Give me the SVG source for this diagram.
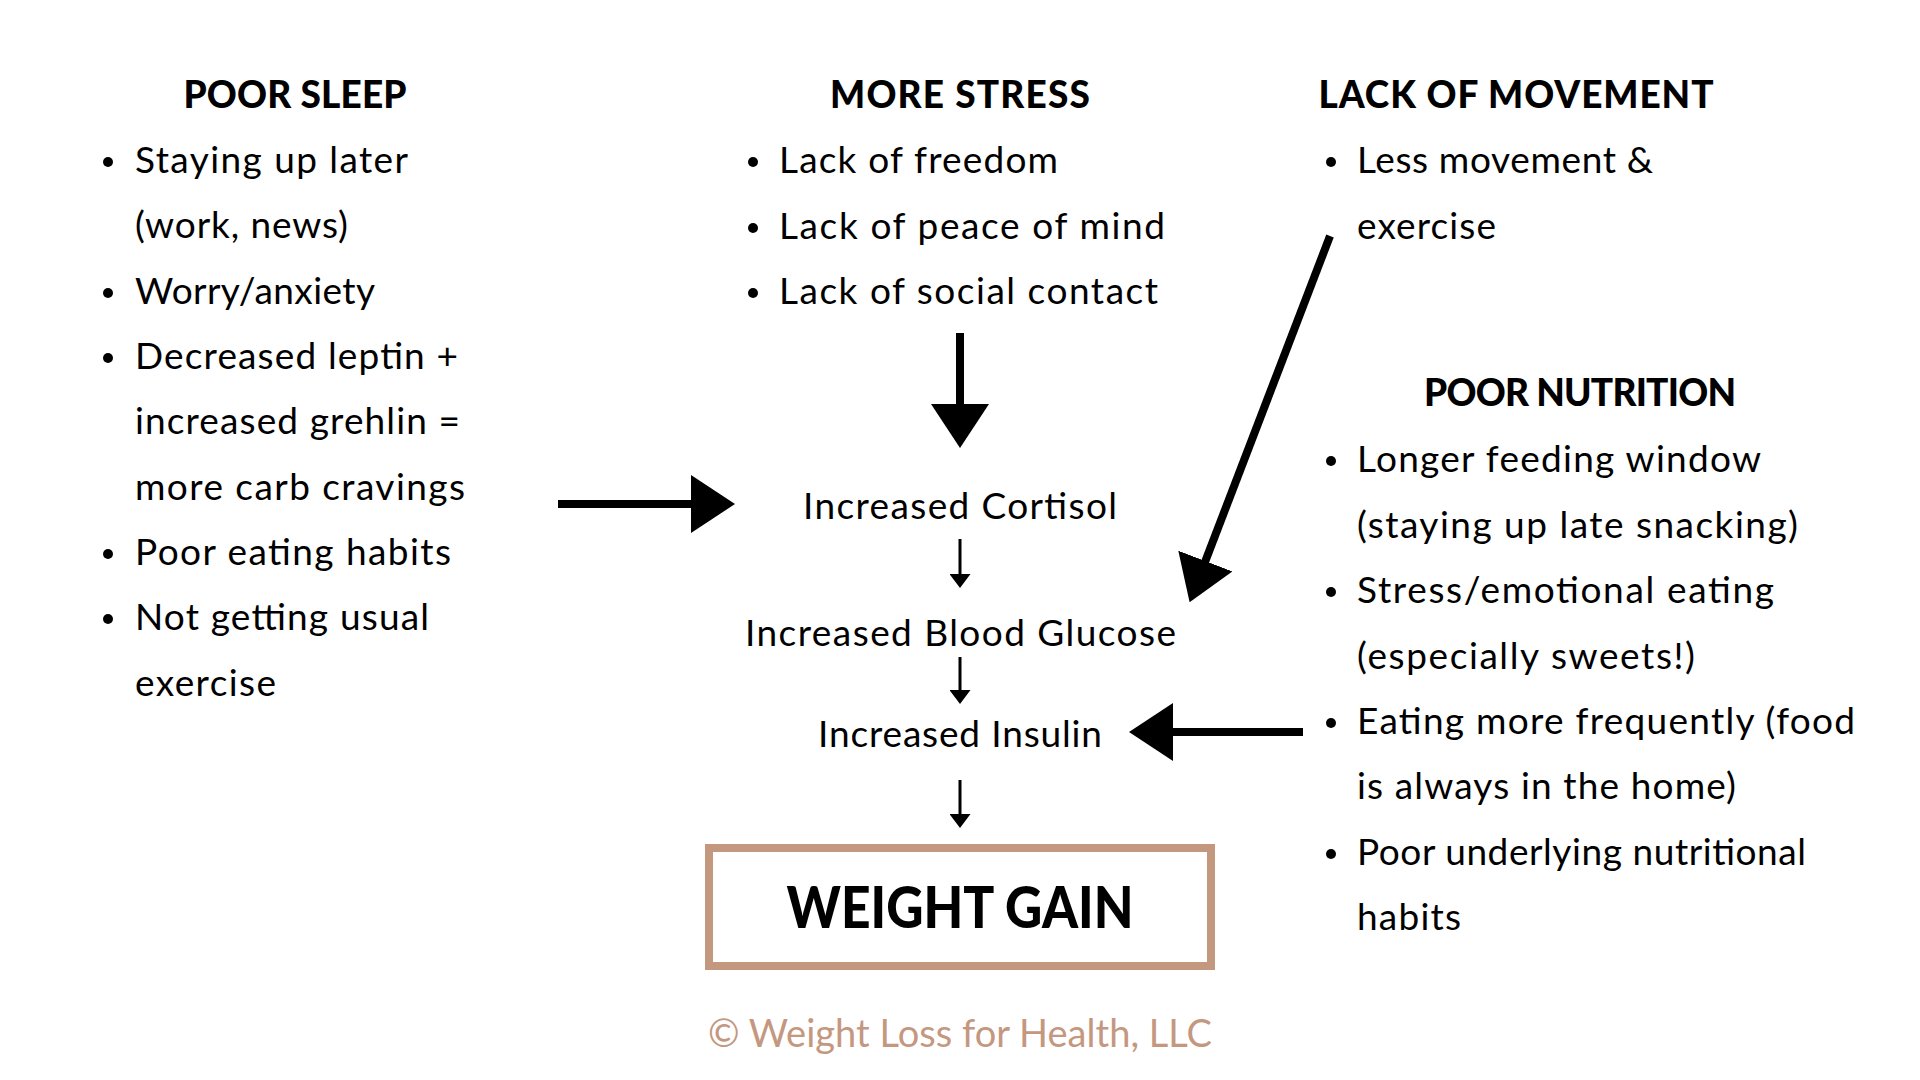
<svg xmlns="http://www.w3.org/2000/svg" width="1920" height="1080" viewBox="0 0 1920 1080">
<defs>
<style>
.h{font-family:Lato,"Liberation Sans",sans-serif;font-weight:900;font-size:37px;fill:#000;text-anchor:middle}
.t{font-family:Lato,"Liberation Sans",sans-serif;font-weight:400;font-size:37px;fill:#000}
.c{font-family:Lato,"Liberation Sans",sans-serif;font-weight:400;font-size:37px;fill:#000}
.b{fill:#000}
.big{stroke:#000;stroke-width:8;fill:none}
.sm{stroke:#000;stroke-width:3;fill:none}
</style>
<marker id="bh" markerUnits="userSpaceOnUse" viewBox="0 -29 44 58" refX="1" refY="0" markerWidth="44" markerHeight="58" orient="auto"><path d="M0,-29 L44,0 L0,29 Z" fill="#000"/></marker>
<marker id="sh" markerUnits="userSpaceOnUse" viewBox="0 -10.5 14 21" refX="1" refY="0" markerWidth="14" markerHeight="21" orient="auto"><path d="M0,-10.5 L14,0 L0,10.5 Z" fill="#000"/></marker>
</defs>
<rect width="1920" height="1080" fill="#fff"/>

<g id="poor-sleep">
<text class="h" x="295" y="108" textLength="223">POOR SLEEP</text>
<circle class="b" cx="108" cy="162" r="5"/>
<text class="t" x="135" y="173" textLength="273">Staying up later</text>
<text class="t" x="135" y="238" textLength="213">(work, news)</text>
<circle class="b" cx="108" cy="293" r="5"/>
<text class="t" x="135" y="304" textLength="240">Worry/anxiety</text>
<circle class="b" cx="108" cy="358" r="5"/>
<text class="t" x="135" y="369" textLength="323">Decreased leptin +</text>
<text class="t" x="135" y="434" textLength="325">increased grehlin =</text>
<text class="t" x="135" y="500" textLength="330">more carb cravings</text>
<circle class="b" cx="108" cy="554" r="5"/>
<text class="t" x="135" y="565" textLength="316">Poor eating habits</text>
<circle class="b" cx="108" cy="619" r="5"/>
<text class="t" x="135" y="630" textLength="294">Not getting usual</text>
<text class="t" x="135" y="696" textLength="141">exercise</text>
</g>

<g id="more-stress">
<text class="h" x="960" y="108" textLength="260">MORE STRESS</text>
<circle class="b" cx="753" cy="162" r="5"/>
<text class="t" x="779" y="173" textLength="279">Lack of freedom</text>
<circle class="b" cx="753" cy="228" r="5"/>
<text class="t" x="779" y="239" textLength="386">Lack of peace of mind</text>
<circle class="b" cx="753" cy="293" r="5"/>
<text class="t" x="779" y="304" textLength="379">Lack of social contact</text>
</g>

<g id="lack-of-movement">
<text class="h" x="1516" y="108" textLength="395">LACK OF MOVEMENT</text>
<circle class="b" cx="1331" cy="162" r="5"/>
<text class="t" x="1357" y="173" textLength="296">Less movement &amp;</text>
<text class="t" x="1357" y="239" textLength="139">exercise</text>
</g>

<g id="poor-nutrition">
<text class="h" x="1580" y="406" textLength="312">POOR NUTRITION</text>
<circle class="b" cx="1331" cy="461" r="5"/>
<text class="t" x="1357" y="472" textLength="404">Longer feeding window</text>
<text class="t" x="1357" y="538" textLength="441">(staying up late snacking)</text>
<circle class="b" cx="1331" cy="592" r="5"/>
<text class="t" x="1357" y="603" textLength="417">Stress/emotional eating</text>
<text class="t" x="1357" y="669" textLength="338">(especially sweets!)</text>
<circle class="b" cx="1331" cy="723" r="5"/>
<text class="t" x="1357" y="734" textLength="498">Eating more frequently (food</text>
<text class="t" x="1357" y="799" textLength="379">is always in the home)</text>
<circle class="b" cx="1331" cy="854" r="5"/>
<text class="t" x="1357" y="865" textLength="449">Poor underlying nutritional</text>
<text class="t" x="1357" y="930" textLength="104">habits</text>
</g>

<g id="cortisol"><text class="c" x="803" y="519" textLength="314">Increased Cortisol</text></g>
<g id="glucose"><text class="c" x="745" y="646" textLength="431">Increased Blood Glucose</text></g>
<g id="insulin"><text class="c" x="818" y="747" textLength="284">Increased Insulin</text></g>

<g id="weight-gain">
<rect x="709" y="848" width="502" height="118" fill="none" stroke="#C4977F" stroke-width="8"/>
<text x="960" y="928" text-anchor="middle" textLength="347" lengthAdjust="spacingAndGlyphs" style="font-family:Lato,'Liberation Sans',sans-serif;font-weight:900;font-size:57px;fill:#000">WEIGHT GAIN</text>
</g>

<g id="copyright">
<text x="708" y="1047" textLength="504" style="font-family:Lato,'Liberation Sans',sans-serif;font-weight:400;font-size:38px;fill:#C4977F">© Weight Loss for Health, LLC</text>
</g>

<g id="connectors">
<line class="big" x1="558" y1="504" x2="692" y2="504" marker-end="url(#bh)"/>
<line class="big" x1="960" y1="333" x2="960" y2="405" marker-end="url(#bh)"/>
<line class="big" x1="1330" y1="236" x2="1205" y2="562" marker-end="url(#bh)"/>
<line class="big" x1="1303" y1="732" x2="1172" y2="732" marker-end="url(#bh)"/>
<line class="sm" x1="960" y1="539" x2="960" y2="575" marker-end="url(#sh)"/>
<line class="sm" x1="960" y1="657" x2="960" y2="691" marker-end="url(#sh)"/>
<line class="sm" x1="960" y1="780" x2="960" y2="815" marker-end="url(#sh)"/>
</g>
</svg>
